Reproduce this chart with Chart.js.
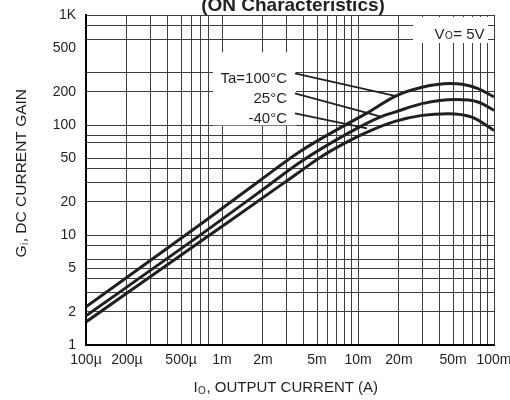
<!DOCTYPE html>
<html><head><meta charset="utf-8">
<script src="https://cdn.jsdelivr.net/npm/chart.js@4.4.1/dist/chart.umd.min.js"></script>
<style>html,body{margin:0;padding:0;background:#fff;}#wrap{width:510px;height:400px;}</style>
</head><body><div id="wrap"><canvas id="c" width="510" height="400"></canvas></div>
<script>
// ---------- data ----------
const chartTitle = '(ON Characteristics)';
const xAxisTitle = ['I', 'O', ', OUTPUT CURRENT (A)'];
const yAxisTitle = ['G', 'i', ', DC CURRENT GAIN'];
const conditionLabel = ['V', 'O', '= 5V'];

const xTickValues = [1e-4, 2e-4, 5e-4, 1e-3, 2e-3, 5e-3, 1e-2, 2e-2, 5e-2, 1e-1];
const xTickLabels = ['100µ', '200µ', '500µ', '1m', '2m', '5m', '10m', '20m', '50m', '100m'];
const xGridValues = [1e-4, 2e-4, 3e-4, 4e-4, 5e-4, 6e-4, 7e-4, 8e-4,
                     1e-3, 2e-3, 3e-3, 4e-3, 5e-3, 6e-3, 7e-3, 8e-3, 9e-3,
                     1e-2, 2e-2, 3e-2, 4e-2, 5e-2, 6e-2, 7e-2, 8e-2, 9e-2, 1e-1];

const yTickValues = [1, 2, 5, 10, 20, 50, 100, 200, 500, 1000];
const yTickLabels = ['1', '2', '5', '10', '20', '50', '100', '200', '500', '1K'];
const yGridValues = [1, 2, 3, 4, 5, 6, 8, 10, 20, 30, 40, 50, 70, 80, 100, 200, 300, 500, 600, 800, 1000];
const yLabelOnlyValues = [500];   // labelled but drawn without a grid line

const seriesNames = ['Ta=100°C', '25°C', '-40°C'];

const currentTa100 = [1e-4, 7.37e-4, 1.90e-3, 3.75e-3, 8.74e-3, 1.225e-2, 1.87e-2, 2.96e-2, 4.75e-2, 5.82e-2, 7.63e-2, 1e-1];
const gainTa100    = [2.22, 13.2, 31.3, 57.5, 105.6, 133.0, 182.3, 220.2, 238, 234.5, 214.3, 179.6];

const currentTa25  = [1e-4, 7.37e-4, 2.14e-3, 3.75e-3, 8.74e-3, 1.45e-2, 1.87e-2, 2.96e-2, 5.17e-2, 7.63e-2, 1e-1];
const gainTa25     = [1.84, 10.56, 27.6, 45.9, 86.1, 118.0, 131.1, 156.4, 170.1, 161.8, 135.9];

const currentTaM40 = [1e-4, 7.37e-4, 2.67e-3, 3.75e-3, 5.26e-3, 8.74e-3, 1.225e-2, 1.87e-2, 2.96e-2, 4.59e-2, 6.89e-2, 1e-1];
const gainTaM40    = [1.62, 9.19, 28.1, 37.8, 50.7, 72.4, 88.4, 107.8, 122.3, 126.8, 118.0, 89.3];

// leader lines from the temperature labels to their curves
const leaderCurrentStart = [3.44e-3, 3.44e-3, 3.44e-3];
const leaderGainStart    = [295, 194, 127.6];
const leaderCurrentEnd   = [1.94e-2, 1.45e-2, 1.165e-2];
const leaderGainEnd      = [182.3, 119.8, 93];

// ---------- styles ----------
const ink = '#231f20';
const gridColor = '#3c3c3c';
const regular = "'Liberation Sans', Arial, sans-serif";

const pts = (xs, ys) => xs.map((v, i) => ({x: v, y: ys[i]}));
const near = (a, b) => Math.abs(a - b) / b < 1e-6;

const curveStyle = {borderColor: ink, borderWidth: 3, pointRadius: 0, fill: false, cubicInterpolationMode: 'monotone'};
const leaderStyle = {borderColor: ink, borderWidth: 1.8, pointRadius: 0, fill: false, tension: 0};

const datasets = [
  Object.assign({label: seriesNames[0], data: pts(currentTa100, gainTa100)}, curveStyle),
  Object.assign({label: seriesNames[1], data: pts(currentTa25, gainTa25)}, curveStyle),
  Object.assign({label: seriesNames[2], data: pts(currentTaM40, gainTaM40)}, curveStyle),
];
seriesNames.forEach((n, i) => {
  datasets.push(Object.assign({label: n + ' leader',
    data: [{x: leaderCurrentStart[i], y: leaderGainStart[i]}, {x: leaderCurrentEnd[i], y: leaderGainEnd[i]}]}, leaderStyle));
});

function drawPieces(ctx, pieces, x, y, bigFont, smallFont, subShift) {
  ctx.font = bigFont; const w1 = ctx.measureText(pieces[0]).width;
  ctx.font = smallFont; const w2 = ctx.measureText(pieces[1]).width;
  ctx.font = bigFont; ctx.fillText(pieces[0], x, y);
  ctx.font = smallFont; ctx.fillText(pieces[1], x + w1 + 0.5, y + subShift);
  ctx.font = bigFont; ctx.fillText(pieces[2], x + w1 + w2 + 1, y);
}
function piecesWidth(ctx, pieces, bigFont, smallFont) {
  ctx.font = bigFont; let w = ctx.measureText(pieces[0]).width + ctx.measureText(pieces[2]).width;
  ctx.font = smallFont; w += ctx.measureText(pieces[1]).width;
  return w + 1.5;
}

const annotations = {
  id: 'annotations',
  beforeDatasetsDraw(chart) {
    const {ctx, chartArea: a, scales: {x, y}} = chart;
    ctx.save();
    const sx = x.getPixelForValue(leaderCurrentStart[0]);
    const yTop = y.getPixelForValue(leaderGainStart[0]);
    const yBot = y.getPixelForValue(leaderGainStart[2]);
    ctx.fillStyle = '#fff';
    ctx.fillRect(sx - 82, yTop - 21, 83, yBot - yTop + 33);
    ctx.fillRect(a.right - 81, a.top + 2, 75, 26);
    ctx.fillStyle = ink;
    ctx.textBaseline = 'alphabetic';
    ctx.textAlign = 'right';
    ctx.font = '15px ' + regular;
    seriesNames.forEach((n, i) => {
      const py = y.getPixelForValue(leaderGainStart[i]);
      ctx.fillText(n, sx - 8, py + 10);
    });
    ctx.textAlign = 'left';
    const big = '15px ' + regular, small = '10px ' + regular;
    const w = piecesWidth(ctx, conditionLabel, big, small);
    drawPieces(ctx, conditionLabel, a.right - 9 - w, a.top + 24, big, small, 0);
    ctx.restore();
  },
  afterDraw(chart) {
    const {ctx} = chart;
    ctx.save();
    ctx.fillStyle = ink;
    ctx.textBaseline = 'alphabetic';
    ctx.textAlign = 'center';
    ctx.font = 'bold 19px ' + regular;
    ctx.fillText(chartTitle, 293, 11);
    ctx.textAlign = 'left';
    const big = '15px ' + regular, small = '10px ' + regular;
    const wx = piecesWidth(ctx, xAxisTitle, big, small);
    drawPieces(ctx, xAxisTitle, 286 - wx / 2, 392, big, small, 2);
    const bigY = '15.5px ' + regular, smallY = '10px ' + regular;
    const wy = piecesWidth(ctx, yAxisTitle, bigY, smallY);
    ctx.translate(26, 173);
    ctx.rotate(-Math.PI / 2);
    drawPieces(ctx, yAxisTitle, -wy / 2, 0, bigY, smallY, 2);
    ctx.restore();
  }
};

new Chart(document.getElementById('c'), {
  type: 'line',
  data: {datasets},
  options: {
    responsive: false,
    animation: false,
    layout: {padding: {left: 0, right: 16, top: 15, bottom: 0}},
    plugins: {legend: {display: false}, tooltip: {enabled: false}, title: {display: false}},
    scales: {
      x: {
        type: 'logarithmic', min: 1e-4, max: 1e-1,
        afterBuildTicks: s => { s.ticks = xGridValues.map(v => ({value: v})); },
        afterFit: s => { s.height = 55; s.paddingLeft = 0; s.paddingRight = 0; },
        ticks: {
          autoSkip: false, maxRotation: 0, minRotation: 0, padding: 7, color: ink,
          font: {family: regular, size: 14},
          callback: v => { const i = xTickValues.findIndex(t => near(v, t)); return i >= 0 ? xTickLabels[i] : ''; }
        },
        grid: {color: gridColor, lineWidth: 1, drawTicks: false},
        border: {display: true, color: '#000', width: 2}
      },
      y: {
        type: 'logarithmic', min: 1, max: 1000,
        afterBuildTicks: s => { s.ticks = yGridValues.map(v => ({value: v})); },
        afterFit: s => { s.width = 86; s.paddingTop = 0; s.paddingBottom = 0; },
        ticks: {
          autoSkip: false, padding: 10, color: ink,
          font: {family: regular, size: 14},
          callback: v => { const i = yTickValues.findIndex(t => near(v, t)); return i >= 0 ? yTickLabels[i] : ''; }
        },
        grid: {
          color: c => (c.tick && yLabelOnlyValues.some(t => near(c.tick.value, t))) ? 'rgba(0,0,0,0)' : gridColor,
          lineWidth: 1, drawTicks: false
        },
        border: {display: true, color: '#000', width: 2}
      }
    }
  },
  plugins: [annotations]
});
</script>
</body></html>
